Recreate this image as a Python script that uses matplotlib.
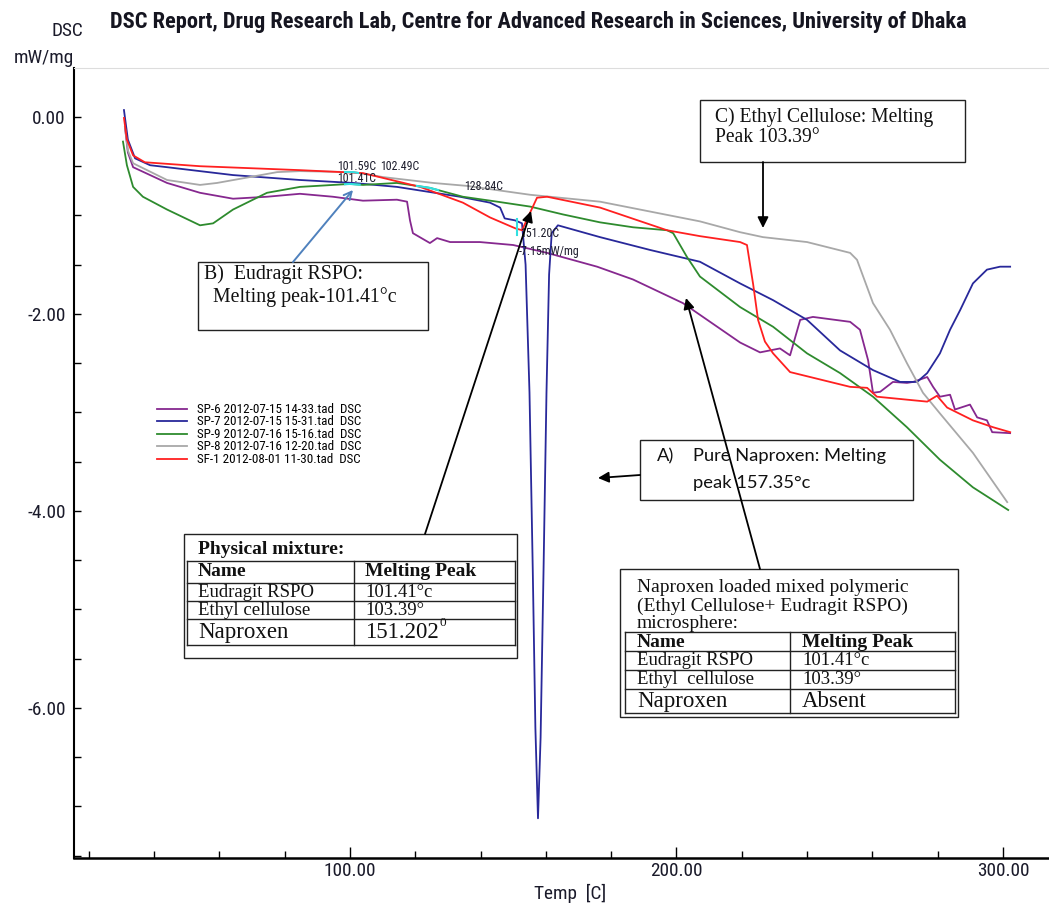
import os
import numpy as np
import matplotlib
matplotlib.use("Agg")
import matplotlib.pyplot as plt
from matplotlib import font_manager as fm
from matplotlib.font_manager import FontProperties
from matplotlib.patches import Rectangle, FancyArrowPatch
from matplotlib.lines import Line2D
from matplotlib.ticker import MultipleLocator, FormatStrFormatter

# ---------------- data ----------------
labels = ["SP-6 2012-07-15 14-33.tad  DSC",
          "SP-7 2012-07-15 15-31.tad  DSC",
          "SP-9 2012-07-16 15-16.tad  DSC",
          "SP-8 2012-07-16 12-20.tad  DSC",
          "SF-1 2012-08-01 11-30.tad  DSC"]

T_purple = [31.1, 32.0, 33.6, 44.0, 54.1, 64.2, 74.6, 84.7, 94.8, 104.0, 114.4, 117.5, 118.4, 119.3,
            124.5, 126.7, 130.7, 139.8, 150.0, 160.4, 175.7, 186.7, 202.0, 219.5, 225.6, 231.7, 234.8,
            237.9, 241.8, 253.2, 256.2, 258.7, 260.2, 262.4, 266.3, 270.6, 272.5, 276.8, 278.6, 280.7,
            283.8, 285.3, 289.9, 292.1, 295.1, 296.7, 302.2]
V_purple = [-0.10, -0.36, -0.51, -0.67, -0.77, -0.83, -0.81, -0.78, -0.81, -0.85, -0.84, -0.86, -1.05, -1.18,
            -1.28, -1.23, -1.27, -1.27, -1.30, -1.38, -1.52, -1.65, -1.89, -2.29, -2.39, -2.35, -2.42,
            -2.06, -2.03, -2.08, -2.16, -2.47, -2.80, -2.79, -2.69, -2.70, -2.69, -2.64, -2.74, -2.84,
            -2.82, -2.97, -2.92, -3.05, -3.08, -3.20, -3.21]

T_blue = [30.8, 32.0, 34.2, 38.8, 44.0, 64.2, 84.7, 101.0, 114.4, 133.7, 142.9, 146.0, 147.4, 150.6,
          152.7, 153.8, 155.0, 156.0, 156.8, 157.6, 158.4, 159.3, 160.2, 161.0, 161.8, 163.7, 176.6,
          191.9, 207.2, 219.5, 229.6, 240.0, 250.1, 260.2, 268.5, 273.7, 276.8, 280.7, 283.8, 286.9,
          290.8, 295.1, 299.1, 302.2]
V_blue = [0.07, -0.23, -0.42, -0.49, -0.51, -0.59, -0.64, -0.67, -0.71, -0.81, -0.87, -0.92, -1.03, -1.05,
          -1.08, -1.50, -2.80, -4.60, -6.20, -7.12, -6.30, -4.60, -2.80, -1.60, -1.18, -1.10, -1.22,
          -1.35, -1.47, -1.69, -1.86, -2.06, -2.37, -2.57, -2.69, -2.69, -2.60, -2.40, -2.16, -1.96,
          -1.69, -1.55, -1.52, -1.52]

T_green = [30.5, 31.7, 33.6, 36.6, 44.0, 54.1, 58.1, 64.2, 74.6, 84.7, 100.0, 104.0, 114.4, 124.5,
           134.6, 145.1, 155.2, 165.3, 176.6, 186.7, 197.1, 199.0, 203.2, 207.2, 219.5, 229.6, 240.0,
           250.1, 260.2, 270.6, 280.7, 290.8, 301.6]
V_green = [-0.25, -0.49, -0.71, -0.81, -0.94, -1.10, -1.08, -0.94, -0.77, -0.71, -0.68, -0.69, -0.67, -0.72,
           -0.81, -0.86, -0.91, -0.99, -1.07, -1.12, -1.15, -1.18, -1.42, -1.62, -1.93, -2.13, -2.40,
           -2.60, -2.84, -3.15, -3.48, -3.76, -3.99]

T_grey = [31.1, 32.0, 33.6, 44.0, 54.1, 59.3, 69.4, 77.7, 84.7, 101.0, 110.1, 125.5, 135.9, 155.2,
          176.6, 207.2, 219.5, 226.5, 240.0, 253.2, 255.3, 260.2, 265.4, 270.6, 275.5, 280.7, 290.8, 301.3]
V_grey = [-0.10, -0.34, -0.47, -0.64, -0.69, -0.67, -0.61, -0.56, -0.55, -0.56, -0.61, -0.67, -0.70, -0.79,
          -0.86, -1.06, -1.17, -1.22, -1.27, -1.38, -1.45, -1.89, -2.16, -2.50, -2.80, -3.01, -3.41, -3.91]

T_red = [30.8, 31.7, 33.6, 37.2, 54.1, 84.7, 104.0, 121.5, 134.6, 142.9, 150.6, 152.7, 155.2, 157.3,
         160.4, 176.6, 197.1, 207.2, 219.5, 221.6, 223.5, 225.0, 227.1, 229.6, 234.8, 253.2, 258.4,
         261.4, 270.6, 276.8, 279.8, 282.9, 290.8, 297.0, 302.2]
V_red = [-0.01, -0.23, -0.39, -0.46, -0.50, -0.54, -0.57, -0.71, -0.87, -1.02, -1.13, -1.15, -0.97, -0.82,
         -0.81, -0.92, -1.15, -1.21, -1.27, -1.30, -1.70, -2.06, -2.28, -2.40, -2.59, -2.74, -2.75,
         -2.84, -2.87, -2.89, -2.83, -2.95, -3.08, -3.15, -3.20]

cyan_green_ranges = [(98.5, 103.0), (120.5, 127.0)]
cyan_grey_ranges = [(98.5, 102.5)]
cyan_red_T = [151.3, 151.3]
cyan_red_V = [-1.04, -1.20]

peak_labels = ["101.59C", "102.49C", "101.41C", "128.84C", "151.20C", "-7.15mW/mg"]

table1_rows = [("Eudragit RSPO", "101.41°c"), ("Ethyl cellulose", "103.39°"), ("Naproxen", "151.202")]
table2_rows = [("Eudragit RSPO", "101.41°c"), ("Ethyl  cellulose", "103.39°"), ("Naproxen", "Absent")]

TITLE = "DSC Report, Drug Research Lab, Centre for Advanced Research in Sciences, University of Dhaka"

# ---------------- fonts ----------------
plt.rcParams["axes.unicode_minus"] = False
files = [f.fname for f in fm.fontManager.ttflist]

def find_file(keys):
    for k in keys:
        for fn in files:
            if k.lower() == os.path.basename(fn).lower().split(".")[0]:
                return fn
    return None

cond_reg = find_file(["LiberationSansNarrow-Regular", "ArialNarrow", "RobotoCondensed-Regular",
                      "DejaVuSansCondensed", "OpenSans_Condensed-Regular", "OpenSansCondensed-Regular"])
cond_bold = find_file(["LiberationSansNarrow-Bold", "RobotoCondensed-Bold", "DejaVuSansCondensed-Bold",
                       "OpenSans_Condensed-Bold", "OpenSansCondensed-Bold"])
if cond_reg:
    FP_SANS = FontProperties(fname=cond_reg)
else:
    FP_SANS = FontProperties(family="Liberation Sans")
if cond_bold:
    FP_BOLD = FontProperties(fname=cond_bold)
elif cond_reg:
    FP_BOLD = FontProperties(fname=cond_reg, weight="bold")
else:
    FP_BOLD = FontProperties(family="Liberation Sans", weight="bold")

SERIF = "Liberation Serif"
CAL = "Lato"

W, H = 1049, 905
fig = plt.figure(figsize=(W / 100, H / 100), dpi=100)
fig.patch.set_facecolor("white")
renderer = fig.canvas.get_renderer()

def fit_size(s, fp, target_px, base=10.0):
    tmp = fig.text(0, 0, s, fontproperties=fp.copy(), fontsize=base)
    w = tmp.get_window_extent(renderer).width
    tmp.remove()
    return base * target_px / w

def P(x, y):
    return (x / W, 1 - y / H)

ax = fig.add_axes([74 / W, 1 - 858 / H, (W - 74) / W, (858 - 68) / H])
ax.set_xlim(15.5, 314.1)
ax.set_ylim(-7.523, 0.497)

colors = ["#86288f", "#28289a", "#2e8b2e", "#a8a8a8", "#ff2020"]
series = [(T_purple, V_purple), (T_blue, V_blue), (T_green, V_green), (T_grey, V_grey), (T_red, V_red)]
lines = []
for (tt, v), c, lab in zip(series, colors, labels):
    ln, = ax.plot(tt, v, color=c, lw=1.3, label=lab, solid_joinstyle="round")
    lines.append(ln)

def cyan_overlay(T, V, ranges):
    T = np.asarray(T); V = np.asarray(V)
    for a, b in ranges:
        tt = np.linspace(a, b, 20)
        ax.plot(tt, np.interp(tt, T, V), color="#33e0e0", lw=1.5, zorder=5)

cyan_overlay(T_green, V_green, cyan_green_ranges)
cyan_overlay(T_grey, V_grey, cyan_grey_ranges)
ax.plot(cyan_red_T, cyan_red_V, color="#33e0e0", lw=1.5, zorder=5)

# axes styling
ax.spines["right"].set_visible(False)
ax.spines["top"].set_color("#dddddd")
ax.spines["top"].set_linewidth(0.8)
ax.spines["left"].set_linewidth(1.5)
ax.spines["bottom"].set_linewidth(1.8)
ax.xaxis.set_major_locator(MultipleLocator(100))
ax.xaxis.set_minor_locator(MultipleLocator(20))
ax.yaxis.set_major_locator(MultipleLocator(2))
ax.yaxis.set_minor_locator(MultipleLocator(0.5))
ax.xaxis.set_major_formatter(FormatStrFormatter("%.2f"))
ax.yaxis.set_major_formatter(FormatStrFormatter("%.2f"))

tick_fs = fit_size("-2.00", FP_SANS, 38)
ax.tick_params(axis="x", which="major", direction="in", length=8, width=1, pad=3, labelcolor="#1a1a2a")
ax.tick_params(axis="x", which="minor", direction="in", length=5, width=1)
ax.tick_params(axis="y", which="both", direction="in", length=5, width=1, pad=6, labelcolor="#1a1a2a")
fig.canvas.draw()
for lab in ax.get_xticklabels() + ax.get_yticklabels():
    lab.set_fontproperties(FP_SANS.copy())
    lab.set_fontsize(tick_fs)

# titles / labels
title_fs = fit_size(TITLE, FP_BOLD, 858)
fig.text(*P(110, 22), TITLE, fontproperties=FP_BOLD, fontsize=title_fs, va="center", ha="left", color="#151520")
fig.text(*P(83, 31), "DSC", fontproperties=FP_SANS, fontsize=tick_fs, va="center", ha="right", color="#1a1a2a")
fig.text(*P(74, 58), "mW/mg", fontproperties=FP_SANS, fontsize=tick_fs, va="center", ha="right", color="#1a1a2a")
fig.text(*P(570, 884), "Temp  [C]", fontproperties=FP_SANS, fontsize=tick_fs, va="top", ha="center", color="#1a1a2a")

# legend
leg_fs = fit_size(labels[0], FP_SANS, 163)
leg_fp = FP_SANS.copy()
leg_fp.set_size(leg_fs)
ax.legend(handles=lines, loc="upper left", bbox_to_anchor=P(157, 403), bbox_transform=fig.transFigure,
          frameon=False, handlelength=30 / (leg_fs * 1.389), handleheight=0.5, handletextpad=0.8,
          labelspacing=-0.04, borderpad=0, borderaxespad=0, prop=leg_fp)

# small software peak labels
pl_fs = fit_size("128.84C", FP_SANS, 39)
pl_pos = [(357, 167), (400, 166), (357, 178), (484, 187), (540, 233), (549, 251)]
for (x, y), s in zip(pl_pos, peak_labels):
    fig.text(*P(x, y), s, fontproperties=FP_SANS, fontsize=pl_fs, ha="center", va="center",
             color="#1a1a2a", zorder=6)

def box(x0, y0, x1, y1, lw=1.0, ec="#222222", z=7):
    r = Rectangle(P(x0, y1), (x1 - x0) / W, (y1 - y0) / H, transform=fig.transFigure,
                  facecolor="white", edgecolor=ec, lw=lw, zorder=z)
    fig.add_artist(r)

def hline(x0, x1, y, lw=1.0):
    fig.add_artist(Line2D([x0 / W, x1 / W], [1 - y / H, 1 - y / H], transform=fig.transFigure,
                          color="#222222", lw=lw, zorder=8))

def vline(x, y0, y1, lw=1.0):
    fig.add_artist(Line2D([x / W, x / W], [1 - y0 / H, 1 - y1 / H], transform=fig.transFigure,
                          color="#222222", lw=lw, zorder=8))

def arrow(p0, p1, color="black", style="-|>", ms=16, lw=1.3):
    fig.add_artist(FancyArrowPatch(P(*p0), P(*p1), transform=fig.transFigure, arrowstyle=style,
                                   mutation_scale=ms, color=color, lw=lw, zorder=9, shrinkA=0, shrinkB=0))

def t(x, y, s, **kw):
    d = dict(family=SERIF, fontsize=13.5, va="center", ha="left", color="#111111", zorder=10)
    d.update(kw)
    fig.text(*P(x, y), s, **d)

# Box B
box(198, 262, 428, 330)
t(204, 274, "B)  Eudragit RSPO:", fontsize=14.3)
t(213, 297, "Melting peak-101.41°c", fontsize=14.3)
arrow((293, 262), (353, 190), color="#4f81bd", style="->", ms=14, lw=1.4)

# Box C
box(700, 100, 965, 162)
t(715, 117, "C) Ethyl Cellulose: Melting", fontsize=14.1)
t(715, 138, "Peak 103.39°", fontsize=14.1)
arrow((763, 162), (763, 228))

# Box A
box(640, 440, 913, 500)
t(657, 456, "A)", family=CAL, fontsize=13.2)
t(693, 456, "Pure Naproxen: Melting", family=CAL, fontsize=13.2)
t(693, 483, "peak 157.35°c", family=CAL, fontsize=13.2)
arrow((640, 475), (598, 478))

# Table 1: physical mixture
box(184, 534, 517, 658)
t(198, 550, "Physical mixture:", fontweight="bold", fontsize=14)
for y in [561, 583, 601, 619, 645]:
    hline(187, 515, y)
for x in [187, 354, 515]:
    vline(x, 561, 645)
t(198, 572, "Name", fontweight="bold", fontsize=14)
t(365, 572, "Melting Peak", fontweight="bold", fontsize=14)
ys1 = [592, 610, 632]
for (a, b), y in zip(table1_rows, ys1):
    fs = 16.5 if a == "Naproxen" else 13.5
    t(198, y, a, fontsize=fs)
    t(365, y, b, fontsize=fs)
t(439, 623, "0", fontsize=9.5)
arrow((425, 534), (531, 211))

# Table 2: microspheres
box(620, 569, 958, 717)
t(637, 587, "Naproxen loaded mixed polymeric", fontsize=14)
t(637, 606, "(Ethyl Cellulose+ Eudragit RSPO)", fontsize=14)
t(637, 623, "microsphere:", fontsize=14)
for y in [632, 651, 670, 689, 713]:
    hline(625, 955, y)
for x in [625, 790, 955]:
    vline(x, 632, 713)
t(637, 642, "Name", fontweight="bold", fontsize=14)
t(802, 642, "Melting Peak", fontweight="bold", fontsize=14)
ys2 = [660, 679, 701]
for (a, b), y in zip(table2_rows, ys2):
    fs = 16.5 if a == "Naproxen" else 13.5
    t(637, y, a, fontsize=fs)
    t(802, y, b, fontsize=fs)
arrow((760, 569), (686, 298))

fig.savefig("out.png", dpi=100)
